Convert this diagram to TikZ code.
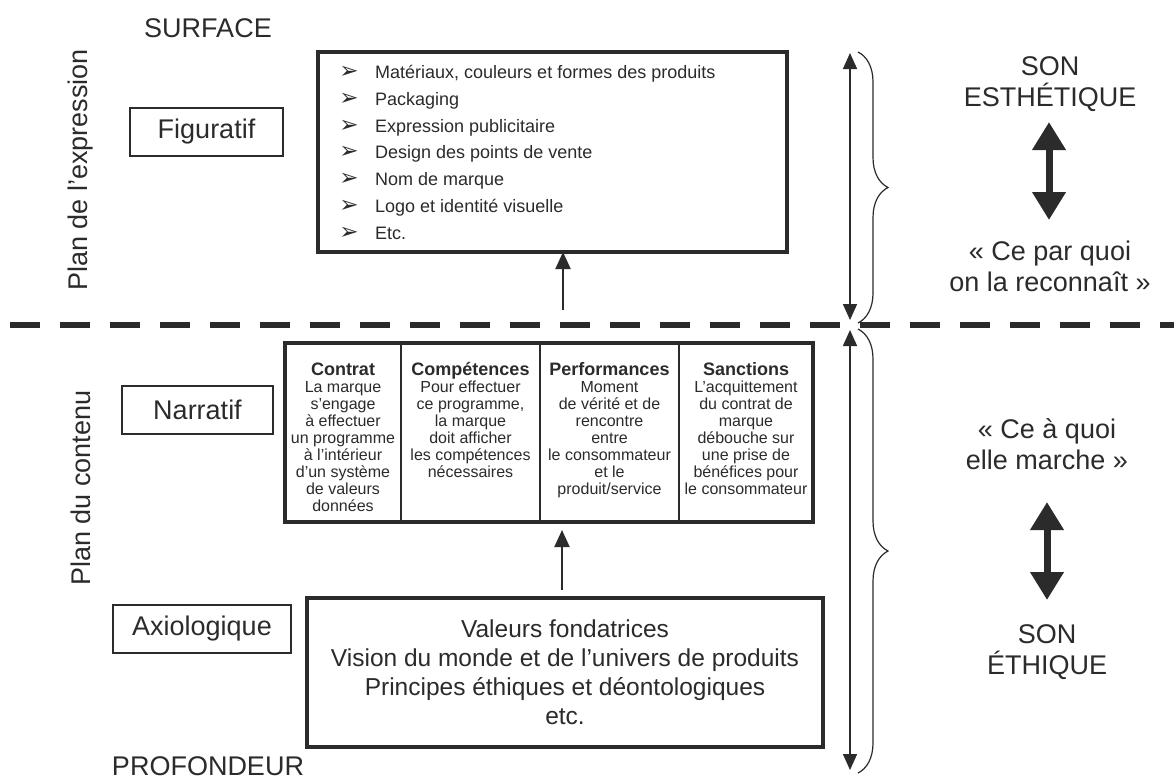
\documentclass[tikz,border=0pt]{standalone}
\usepackage{fontspec}
\setmainfont{Liberation Sans}
\newfontfamily\dejavu{DejaVu Sans}
\usetikzlibrary{arrows.meta,decorations.pathreplacing}
\definecolor{ink}{gray}{0.17}
\begin{document}
\begin{tikzpicture}[x=1pt,y=-1pt,
  every node/.style={text=ink},
  lbox/.style={draw=ink, line width=1.8pt, minimum height=48pt, inner sep=0pt, outer sep=0pt, font=\fontsize{27}{31}\selectfont},
  heavybox/.style={draw=ink, line width=4.5pt, inner sep=0pt, outer sep=0pt},
  bigtext/.style={font=\fontsize{27}{31}\selectfont, align=center, inner sep=0pt},
  itemtext/.style={anchor=base west, inner sep=0pt, font=\fontsize{18}{20}\selectfont},
  bulletsym/.style={anchor=base, inner sep=0pt, font=\dejavu\fontsize{23}{25}\selectfont},
  colhead/.style={anchor=base, inner sep=0pt, font=\bfseries\fontsize{18}{20}\selectfont},
  colbody/.style={anchor=north, inner sep=0pt, align=center, font=\fontsize{16}{17}\selectfont},
  uparrow/.style={draw=ink, line width=2pt, -{Triangle[width=15pt,length=17pt]}},
  thinarrow/.style={draw=ink, line width=1.6pt, {Triangle[width=14pt,length=16pt]}-{Triangle[width=14pt,length=16pt]}},
  bigarrow/.style={draw=ink, line width=7pt, {Triangle[width=32pt,length=28pt]}-{Triangle[width=32pt,length=28pt]}},
  bracestyle/.style={draw=ink, line width=1.2pt, decorate, decoration={brace, amplitude=30pt}},
  divider/.style={draw=ink, line width=1.3pt}
]
\useasboundingbox (0,0) rectangle (1174,780);
\fill[white] (0,0) rectangle (1174,780);

% side labels
\node[bigtext] (surface) at (208,28) {SURFACE};
\node[bigtext] (profondeur) at (208,766) {PROFONDEUR};
\node[bigtext, rotate=90] (planexp) at (81,170) {Plan de l’expression};
\node[bigtext, rotate=90] (plancont) at (81,488) {Plan du contenu};

% dashed separator
\coordinate (dL) at (10,325);
\coordinate (dR) at (1174,325);
\draw[ink, line width=5.5pt, dash pattern=on 30pt off 20pt] (dL) -- (dR);

% level boxes
\node[lbox, minimum width=153pt] (fig) at (206.5,132) {Figuratif};
\node[lbox, minimum width=151pt] (nar) at (197.5,410) {Narratif};
\node[lbox, minimum width=178pt] (axi) at (202,629) {Axiologique};

% top box
\node[heavybox, minimum width=469pt, minimum height=200pt] (figbox) at (552.5,152) {};
\foreach \t [count=\i] in {{Matériaux, couleurs et formes des produits},Packaging,Expression publicitaire,Design des points de vente,Nom de marque,Logo et identité visuelle,Etc.} {
  \pgfmathsetmacro\yy{78.5+(\i-1)*26.8}
  \node[bulletsym] (b\i) at (349,\yy) {➢};
  \node[itemtext] (it\i) at (375,\yy) {\t};
}
\coordinate (t1) at (563,310);
\draw[uparrow] (t1) -- (t1 |- figbox.south);

% narrative box
\node[heavybox, minimum width=528pt, minimum height=179pt] (narbox) at (549,432.5) {};
\draw[divider] (401,343) -- (401,522);
\draw[divider] (540,343) -- (540,522);
\draw[divider] (679,343) -- (679,522);

\node[colhead] (h1) at (343,375) {Contrat};
\node[colhead] (h2) at (470.5,375) {Compétences};
\node[colhead] (h3) at (609.5,375) {Performances};
\node[colhead] (h4) at (746,375) {Sanctions};
\node[colbody] (c1) at (343,381) {La marque\\s’engage\\à effectuer\\un programme\\à l’intérieur\\d’un système\\de valeurs\\données};
\node[colbody] (c2) at (470.5,381) {Pour effectuer\\ce programme,\\la marque\\doit afficher\\les compétences\\nécessaires};
\node[colbody] (c3) at (609.5,381) {Moment\\de vérité et de\\rencontre\\entre\\le consommateur\\et le\\produit/service};
\node[colbody] (c4) at (746,381) {L’acquittement\\du contrat de\\marque\\débouche sur\\une prise de\\bénéfices pour\\le consommateur};

% bottom box
\node[heavybox, minimum width=516pt, minimum height=149pt, align=center, font=\fontsize{24.5}{29}\selectfont] (axbox) at (565,672.5) {Valeurs fondatrices\\Vision du monde et de l’univers de produits\\Principes éthiques et déontologiques\\etc.};
\coordinate (t2) at (562,590);
\coordinate (h2a) at (562,530);
\draw[uparrow] (t2) -- (h2a);

% vertical double arrows and braces
\coordinate (ua) at (850,53);
\coordinate (ub) at (850,320);
\coordinate (la) at (850,330);
\coordinate (lb) at (850,770);
\draw[thinarrow] (ua) -- (ub);
\draw[thinarrow] (la) -- (lb);
\coordinate (bra) at (858,52);
\coordinate (brb) at (858,323);
\coordinate (brc) at (858,329);
\coordinate (brd) at (858,773);
\draw[bracestyle] (bra) -- (brb);
\draw[bracestyle] (brc) -- (brd);

% right column
\node[bigtext] (son1) at (1050,84) {SON\\ESTHÉTIQUE};
\coordinate (ea) at (1049,122);
\coordinate (eb) at (1049,220);
\draw[bigarrow] (ea) -- (eb);
\node[bigtext] (cpq) at (1050,266) {«~Ce par quoi\\on la reconnaît~»};
\node[bigtext] (caq) at (1047,444) {«~Ce à quoi\\elle marche~»};
\coordinate (fa) at (1047,502);
\coordinate (fb) at (1047,600);
\draw[bigarrow] (fa) -- (fb);
\node[bigtext] (son2) at (1047,652) {SON\\ÉTHIQUE};
\end{tikzpicture}
\end{document}
